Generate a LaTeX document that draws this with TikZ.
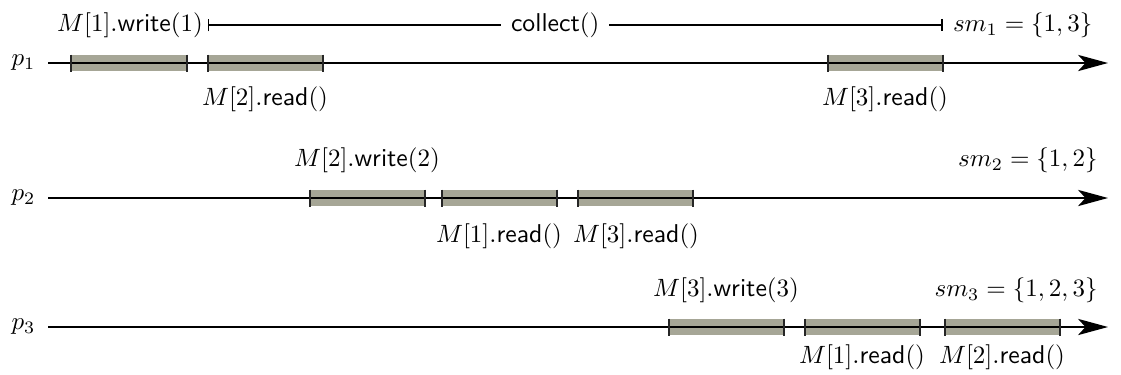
\documentclass[tikz,border=0pt]{standalone}
\usetikzlibrary{arrows.meta}
\definecolor{opgray}{RGB}{166,166,150}
\newcommand{\opw}[1]{$M[#1]$.\textsf{write}$(#1)$}
\newcommand{\opr}[1]{$M[#1]$.\textsf{read}$()$}
\begin{document}
\begin{tikzpicture}[x=0.4pt,y=-0.4pt,
  font=\fontsize{10.3}{12}\selectfont,
  op/.style={fill=opgray, inner sep=0pt, minimum width=45.6pt, minimum height=6.4pt},
  timeline/.style={line width=0.6pt, -{Stealth[length=12pt,width=6.5pt,inset=3pt]}},
  optick/.style={line width=0.8pt, draw=black!85},
  lbl/.style={inner sep=0pt},
  proc/.style={inner sep=0pt, anchor=west}]
\useasboundingbox (0,0) rectangle (1121,374);

% operation intervals
\node[op] (a1) at (129,63) {};
\node[op] (a2) at (265,63) {};
\node[op] (a3) at (885,63) {};
\node[op] (b1) at (367,198) {};
\node[op] (b2) at (499,198) {};
\node[op] (b3) at (635,198) {};
\node[op] (c1) at (726,327) {};
\node[op] (c2) at (862,327) {};
\node[op] (c3) at (1002,327) {};

% processes and their time lines
\node[proc] (p1) at (11,63) {$p_1$};
\node[proc] (p2) at (11,198) {$p_2$};
\node[proc] (p3) at (11,327) {$p_3$};
\coordinate (s1) at (48,63);  \coordinate (e1) at (1108,63);
\coordinate (s2) at (48,198); \coordinate (e2) at (1108,198);
\coordinate (s3) at (48,327); \coordinate (e3) at (1108,327);
\draw[timeline] (s1) -- (e1);
\draw[timeline] (s2) -- (e2);
\draw[timeline] (s3) -- (e3);

% interval end marks
\foreach \n in {a1,a2,a3,b1,b2,b3,c1,c2,c3}{
  \draw[optick] (\n.north west) -- (\n.south west);
  \draw[optick] (\n.north east) -- (\n.south east);
}

% operation labels
\node[lbl] (w1) at (130,25) {\opw{1}};
\node[lbl] (r12) at (265,99) {\opr{2}};
\node[lbl] (r13) at (885,99) {\opr{3}};
\node[lbl] (w2) at (367,160) {\opw{2}};
\node[lbl] (r21) at (499,236) {\opr{1}};
\node[lbl] (r23) at (636,236) {\opr{3}};
\node[lbl] (w3) at (726,290) {\opw{3}};
\node[lbl] (r31) at (862,357) {\opr{1}};
\node[lbl] (r32) at (1002,357) {\opr{2}};

% collect() span of p1
\coordinate (cs) at (a2.west |- w1);
\coordinate (ce) at (a3.east |- w1);
\draw[line width=0.6pt, {Bar[width=5pt]}-{Bar[width=5pt]}] (cs) -- node[pos=0.473, fill=white, inner xsep=4pt, inner ysep=0pt] (col) {\textsf{collect}$()$} (ce);

% snapshot results
\node[lbl, anchor=west] (sm1) at ([xshift=4pt]ce) {$sm_1=\{1,3\}$};
\node[lbl, anchor=east] (sm2) at (1098,160) {$sm_2=\{1,2\}$};
\node[lbl, anchor=east] (sm3) at (1098,290) {$sm_3=\{1,2,3\}$};
\end{tikzpicture}
\end{document}
